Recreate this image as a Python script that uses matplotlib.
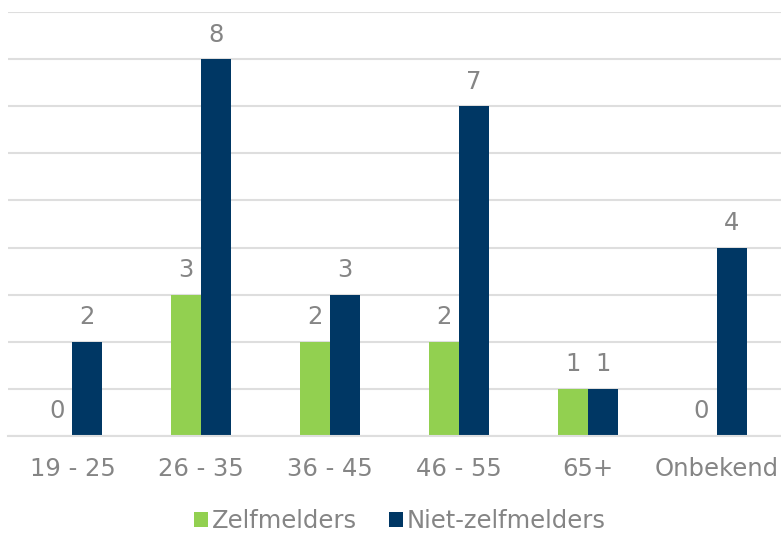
import matplotlib
matplotlib.use("Agg")
import matplotlib.pyplot as plt
import numpy as np

categories = ["19 - 25", "26 - 35", "36 - 45", "46 - 55", "65+", "Onbekend"]
zelfmelders = [0, 3, 2, 2, 1, 0]
niet_zelfmelders = [2, 8, 3, 7, 1, 4]
series_names = ["Zelfmelders", "Niet-zelfmelders"]

green = "#92D050"
navy = "#003764"
txt = "#858585"
grid = "#DEDEDE"

plt.rcParams["font.family"] = ["DejaVu Sans"]

fig = plt.figure(figsize=(7.81, 5.35), dpi=100)
ax = fig.add_axes([8/781, 99/535, 773/781, 424/535])

x = np.arange(len(categories))
w = 0.233
b1 = ax.bar(x - w/2, zelfmelders, w, color=green, label=series_names[0], zorder=3)
b2 = ax.bar(x + w/2, niet_zelfmelders, w, color=navy, label=series_names[1], zorder=3)

for bars, vals in ((b1, zelfmelders), (b2, niet_zelfmelders)):
    for r, v in zip(bars, vals):
        ax.annotate(str(v), (r.get_x() + r.get_width()/2, v), xytext=(0, 9),
                    textcoords="offset points", ha="center", va="bottom",
                    fontsize=17.5, color=txt)

ax.set_xlim(-0.5, len(categories) - 0.5)
ax.set_ylim(0, 9)
ax.set_yticks(np.arange(0, 10, 1))
ax.yaxis.grid(True, color=grid, linewidth=1.5, zorder=0)
ax.tick_params(axis="y", left=False, labelleft=False)
ax.set_xticks(x)
ax.set_xticklabels(categories, fontsize=17.5, color=txt)
ax.tick_params(axis="x", length=0, pad=15)
for s in ["top", "right", "left"]:
    ax.spines[s].set_visible(False)
ax.spines["bottom"].set_color(grid)
ax.spines["bottom"].set_linewidth(1.5)
ax.spines["bottom"].set_zorder(4)

leg = fig.legend(loc="center", bbox_to_anchor=(400/781, 1 - 521/535), ncol=2,
                 frameon=False, fontsize=17.5, handlelength=0.6, handleheight=0.6,
                 handletextpad=0.15, columnspacing=1.3)
for t in leg.get_texts():
    t.set_color(txt)

fig.savefig("out.png", dpi=100)
